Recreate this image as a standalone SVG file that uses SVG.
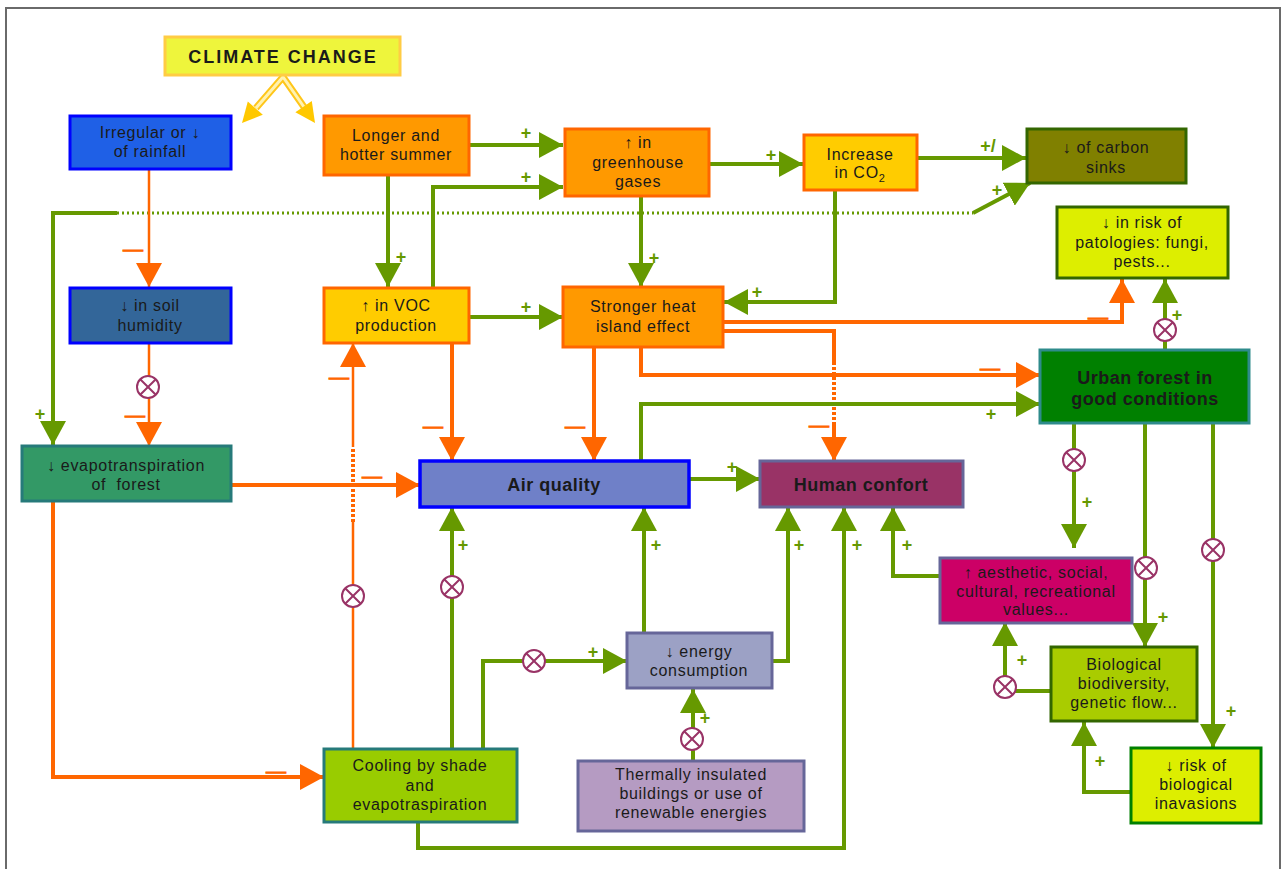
<svg xmlns="http://www.w3.org/2000/svg" width="1281" height="869" viewBox="0 0 1281 869">
<defs>
<style>
.t{font-family:"Liberation Sans",Arial,sans-serif;font-size:16px;letter-spacing:0.7px;fill:#1a1a1a;text-anchor:middle}
.tb{font-family:"Liberation Sans",Arial,sans-serif;font-size:18px;font-weight:bold;letter-spacing:0.5px;fill:#1a1a1a;text-anchor:middle}
.nd{stroke-width:3}
.g{fill:none;stroke:#669900;stroke-width:4}
.o{fill:none;stroke:#FF6600;stroke-width:4}
.ot{fill:none;stroke:#FF6600;stroke-width:2.5}
.ag{marker-end:url(#mg)}
.ao{marker-end:url(#mo)}
.dash{stroke-dasharray:3 2}
.dot{fill:none;stroke:#669900;stroke-width:3;stroke-dasharray:2 3}
.p{font-family:"Liberation Sans",Arial,sans-serif;font-size:18px;font-weight:bold;fill:#669900;text-anchor:middle}
.m{font-family:"Liberation Sans",Arial,sans-serif;font-size:20px;fill:#FF6600;stroke:#FF6600;stroke-width:1;text-anchor:middle}
.xc{fill:#fff;stroke:#993366;stroke-width:2}
.xl{stroke:#993366;stroke-width:2}
.ys{fill:none;stroke:#FFC61A;stroke-width:7}
.yi{fill:none;stroke:#FFF2B0;stroke-width:3}
</style>
<marker id="mg" markerUnits="userSpaceOnUse" markerWidth="26" markerHeight="26" refX="24" refY="13" orient="auto"><path d="M0,0 L24,13 L0,26 z" fill="#669900"/></marker>
<marker id="mo" markerUnits="userSpaceOnUse" markerWidth="26" markerHeight="26" refX="24" refY="13" orient="auto"><path d="M0,0 L24,13 L0,26 z" fill="#FF6600"/></marker>
<g id="ox"><circle class="xc" r="11"/><path class="xl" d="M-7.8,-7.8 L7.8,7.8 M-7.8,7.8 L7.8,-7.8"/></g>
</defs>
<rect width="1281" height="869" fill="#fff"/>
<path d="M6,869 V8 H1280 V869" fill="none" stroke="#6a6a6a" stroke-width="2"/>

<g id="connectors">
  <!-- climate change arrows -->
  <path class="ys" d="M256,108 L283,77 L304,107"/>
  <path class="yi" d="M256,108 L283,77 L304,107"/>
  <polygon points="242,123 262.8,114.8 247.8,101.4" fill="#FFC800"/>
  <polygon points="315,123 311.8,100.9 295.4,112.3" fill="#FFC800"/>

  <path class="g ag" d="M469,145 H563"/>
  <path class="g ag" d="M433,288 V187 H563"/>
  <path class="g ag" d="M388,175 V287"/>
  <path class="g ag" d="M709,164 H803"/>
  <path class="g ag" d="M917,158 H1026"/>
  <path class="dot" d="M117,213 H973"/>
  <path class="g ag" d="M973,213 L1030,183"/>
  <path class="g ag" d="M117,213 H53 V445"/>
  <path class="g ag" d="M641,196 V287"/>
  <path class="g ag" d="M835,190 V302 H724"/>
  <path class="g ag" d="M469,317 H563"/>

  <path class="ot ao" d="M149,169 V287"/>
  <path class="ot ao" d="M149,343 V446"/>
  <path class="o ao" d="M231,485 H420"/>
  <path class="ot" d="M353,749 V522"/>
  <path class="o dash" d="M353,522 V447"/>
  <path class="ot ao" d="M353,447 V343"/>
  <path class="o ao" d="M53,501 V777 H324"/>
  <path class="o ao" d="M452,343 V461"/>
  <path class="o ao" d="M594,347 V461"/>
  <path class="o ao" d="M641,347 V375 H1040"/>
  <path class="o ao" d="M723,322 H1122 V279"/>
  <path class="o" d="M723,331 H834 V362"/>
  <path class="o dash" d="M834,362 V425"/>
  <path class="o ao" d="M834,425 V461"/>

  <path class="g ag" d="M641,461 V404 H1040"/>
  <path class="g ag" d="M689,479 H760"/>
  <path class="g ag" d="M1165,350 V279"/>
  <path class="g ag" d="M1074,423 V548"/>
  <path class="g ag" d="M1145,423 V647"/>
  <path class="g ag" d="M1213,423 V748"/>
  <path class="g ag" d="M940,576 H893 V507"/>
  <path class="g ag" d="M1051,691 H1005 V622"/>
  <path class="g ag" d="M1131,792 H1084 V722"/>
  <path class="g ag" d="M452,749 V507"/>
  <path class="g ag" d="M483,749 V661 H627"/>
  <path class="g ag" d="M644,633 V507"/>
  <path class="g ag" d="M772,661 H788 V507"/>
  <path class="g ag" d="M693,761 V689"/>
  <path class="g ag" d="M418,822 V848 H844 V507"/>

  <!-- multiplier symbols -->
  <use href="#ox" x="148" y="387"/>
  <use href="#ox" x="353" y="596"/>
  <use href="#ox" x="452" y="587"/>
  <use href="#ox" x="534" y="661"/>
  <use href="#ox" x="692" y="739"/>
  <use href="#ox" x="1165" y="330"/>
  <use href="#ox" x="1074" y="460"/>
  <use href="#ox" x="1146" y="568"/>
  <use href="#ox" x="1213" y="550"/>
  <use href="#ox" x="1005" y="687"/>

  <!-- plus labels -->
  <text class="p" x="526" y="139">+</text>
  <text class="p" x="526" y="183">+</text>
  <text class="p" x="401" y="263">+</text>
  <text class="p" x="771" y="161">+</text>
  <text class="p" x="988" y="152">+/</text>
  <text class="p" x="997" y="196">+</text>
  <text class="p" x="40" y="420">+</text>
  <text class="p" x="654" y="264">+</text>
  <text class="p" x="757" y="298">+</text>
  <text class="p" x="526" y="313">+</text>
  <text class="p" x="991" y="420">+</text>
  <text class="p" x="732" y="473">+</text>
  <text class="p" x="1177" y="321">+</text>
  <text class="p" x="1087" y="508">+</text>
  <text class="p" x="1163" y="623">+</text>
  <text class="p" x="1231" y="717">+</text>
  <text class="p" x="907" y="551">+</text>
  <text class="p" x="1022" y="666">+</text>
  <text class="p" x="1100" y="767">+</text>
  <text class="p" x="463" y="551">+</text>
  <text class="p" x="593" y="658">+</text>
  <text class="p" x="656" y="551">+</text>
  <text class="p" x="799" y="551">+</text>
  <text class="p" x="705" y="724">+</text>
  <text class="p" x="857" y="551">+</text>

  <!-- minus labels -->
  <text class="m" x="133" y="255.5">—</text>
  <text class="m" x="135" y="421.5">—</text>
  <text class="m" x="372" y="482.5">—</text>
  <text class="m" x="339" y="383.5">—</text>
  <text class="m" x="276" y="777.5">—</text>
  <text class="m" x="433" y="432.5">—</text>
  <text class="m" x="575" y="432.5">—</text>
  <text class="m" x="990" y="374.5">—</text>
  <text class="m" x="1098" y="323.5">—</text>
  <text class="m" x="819" y="431.5">—</text>
</g>

<g id="climate-change"><rect class="nd" x="165" y="37" width="235" height="38" fill="#EEF53C" stroke="#FFCC44"/><text class="tb" x="283" y="63" style="letter-spacing:2px">CLIMATE CHANGE</text></g>
<g id="rainfall"><rect class="nd" x="70" y="116" width="161" height="53" fill="#1F60E6" stroke="#0000FF"/><text class="t" x="150" y="138">Irregular or ↓</text><text class="t" x="150" y="157">of rainfall</text></g>
<g id="summer"><rect class="nd" x="324" y="116" width="145" height="59" fill="#FF9900" stroke="#FF6600"/><text class="t" x="396" y="141">Longer and</text><text class="t" x="396" y="160">hotter summer</text></g>
<g id="greenhouse"><rect class="nd" x="565" y="129" width="144" height="67" fill="#FF9900" stroke="#FF6600"/><text class="t" x="638" y="148">↑ in</text><text class="t" x="638" y="168">greenhouse</text><text class="t" x="638" y="187">gases</text></g>
<g id="co2"><rect class="nd" x="804" y="135" width="113" height="55" fill="#FFCC00" stroke="#FF6600"/><text class="t" x="860" y="160">Increase</text><text class="t" x="860" y="178">in CO<tspan font-size="11" dy="4">2</tspan></text></g>
<g id="carbon-sinks"><rect class="nd" x="1027" y="129" width="159" height="54" fill="#808000" stroke="#336600"/><text class="t" x="1106" y="153">↓ of carbon</text><text class="t" x="1106" y="173">sinks</text></g>
<g id="patologies"><rect class="nd" x="1057" y="207" width="171" height="71" fill="#DDEE00" stroke="#336600"/><text class="t" x="1142" y="228">↓ in risk of</text><text class="t" x="1142" y="248">patologies: fungi,</text><text class="t" x="1142" y="267">pests...</text></g>
<g id="soil"><rect class="nd" x="70" y="288" width="161" height="55" fill="#336699" stroke="#0000FF"/><text class="t" x="150" y="311">↓ in soil</text><text class="t" x="150" y="331">humidity</text></g>
<g id="voc"><rect class="nd" x="324" y="288" width="145" height="55" fill="#FFCC00" stroke="#FF6600"/><text class="t" x="396" y="311">↑ in VOC</text><text class="t" x="396" y="331">production</text></g>
<g id="heat-island"><rect class="nd" x="563" y="287" width="160" height="60" fill="#FF9900" stroke="#FF6600"/><text class="t" x="643" y="312">Stronger heat</text><text class="t" x="643" y="332">island effect</text></g>
<g id="evapotranspiration"><rect class="nd" x="22" y="446" width="209" height="55" fill="#339966" stroke="#267A7A"/><text class="t" x="126" y="471">↓ evapotranspiration</text><text class="t" x="126" y="490">of&#160; forest</text></g>
<g id="air-quality"><rect x="420" y="461" width="269" height="46" fill="#6F80C8" stroke="#0000FF" stroke-width="3.5"/><text class="tb" x="554" y="491">Air quality</text></g>
<g id="human-confort"><rect class="nd" x="760" y="461" width="203" height="46" fill="#993366" stroke="#666699"/><text class="tb" x="861" y="491">Human confort</text></g>
<g id="urban-forest"><rect class="nd" x="1040" y="350" width="209" height="73" fill="#008000" stroke="#2E8B8B"/><text class="tb" x="1145" y="384">Urban forest in</text><text class="tb" x="1145" y="405">good conditions</text></g>
<g id="aesthetic"><rect class="nd" x="940" y="558" width="192" height="65" fill="#CC0066" stroke="#666699"/><text class="t" x="1036" y="578">↑ aesthetic, social,</text><text class="t" x="1036" y="597">cultural, recreational</text><text class="t" x="1036" y="615">values...</text></g>
<g id="biodiversity"><rect class="nd" x="1051" y="647" width="146" height="74" fill="#A9CC00" stroke="#336600"/><text class="t" x="1124" y="670">Biological</text><text class="t" x="1124" y="689">biodiversity,</text><text class="t" x="1124" y="708">genetic flow...</text></g>
<g id="invasions"><rect class="nd" x="1131" y="748" width="130" height="75" fill="#DDEE00" stroke="#008000"/><text class="t" x="1196" y="771">↓ risk of</text><text class="t" x="1196" y="790">biological</text><text class="t" x="1196" y="809">inavasions</text></g>
<g id="energy"><rect class="nd" x="627" y="633" width="145" height="55" fill="#9CA1C5" stroke="#666699"/><text class="t" x="699" y="657">↓ energy</text><text class="t" x="699" y="676">consumption</text></g>
<g id="thermally"><rect class="nd" x="578" y="761" width="226" height="70" fill="#B59BC2" stroke="#666699"/><text class="t" x="691" y="780">Thermally insulated</text><text class="t" x="691" y="799">buildings or use of</text><text class="t" x="691" y="818">renewable energies</text></g>
<g id="cooling"><rect class="nd" x="324" y="749" width="193" height="73" fill="#99CC00" stroke="#267A7A"/><text class="t" x="420" y="771">Cooling by shade</text><text class="t" x="420" y="791">and</text><text class="t" x="420" y="810">evapotraspiration</text></g>
</svg>
